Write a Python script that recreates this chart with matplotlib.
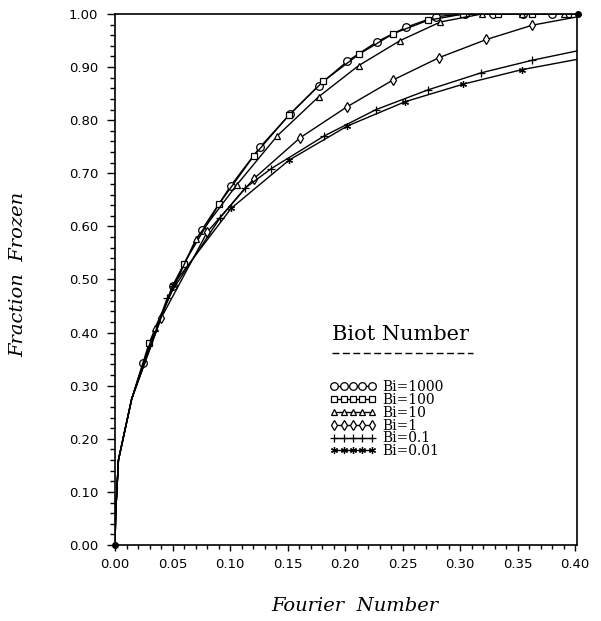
import numpy as np
import matplotlib
matplotlib.use("Agg")
import matplotlib.pyplot as plt
from matplotlib.ticker import MultipleLocator, FormatStrFormatter

# shared steep start of every curve
start_x = [0.0, 0.0006, 0.003, 0.007, 0.0145]
start_y = [0.0, 0.06, 0.16, 0.20, 0.275]

# Bi = 1000
bi1000_x = start_x + [0.0246, 0.050, 0.0754, 0.1008, 0.126, 0.152, 0.177, 0.202,
                      0.228, 0.253, 0.279, 0.304, 0.329, 0.355, 0.380, 0.403]
bi1000_y = start_y + [0.343, 0.488, 0.593, 0.677, 0.749, 0.811, 0.865, 0.911,
                      0.948, 0.975, 0.995, 1.0, 1.0, 1.0, 1.0, 1.0]
# Bi = 100
bi100_x = start_x + [0.0298, 0.060, 0.0904, 0.1207, 0.151, 0.181, 0.212, 0.242,
                     0.272, 0.303, 0.333, 0.363, 0.394, 0.403]
bi100_y = start_y + [0.381, 0.530, 0.642, 0.733, 0.809, 0.873, 0.924, 0.963,
                     0.988, 1.0, 1.0, 1.0, 1.0, 1.0]
# Bi = 10
bi10_x = start_x + [0.0348, 0.0703, 0.1058, 0.1413, 0.177, 0.212, 0.248, 0.283,
                    0.319, 0.354, 0.390, 0.403]
bi10_y = start_y + [0.409, 0.576, 0.678, 0.771, 0.844, 0.903, 0.950, 0.985,
                    1.0, 1.0, 1.0, 1.0]
# Bi = 1
bi1_x = start_x + [0.040, 0.0804, 0.1208, 0.161, 0.2016, 0.242, 0.282, 0.323, 0.363, 0.403]
bi1_y = start_y + [0.427, 0.590, 0.690, 0.767, 0.825, 0.876, 0.918, 0.952, 0.979, 0.995]
# Bi = 0.1
bi01_x = start_x + [0.0454, 0.091, 0.113, 0.136, 0.1816, 0.227, 0.272, 0.318, 0.363, 0.403]
bi01_y = start_y + [0.465, 0.615, 0.672, 0.709, 0.770, 0.820, 0.857, 0.889, 0.913, 0.931]
# Bi = 0.01
bi001_x = start_x + [0.0505, 0.101, 0.1515, 0.202, 0.2525, 0.303, 0.3535, 0.403]
bi001_y = start_y + [0.490, 0.634, 0.725, 0.789, 0.835, 0.868, 0.895, 0.915]

labels = ["Bi=1000", "Bi=100", "Bi=10", "Bi=1", "Bi=0.1", "Bi=0.01"]
series = [(bi1000_x, bi1000_y), (bi100_x, bi100_y), (bi10_x, bi10_y),
          (bi1_x, bi1_y), (bi01_x, bi01_y), (bi001_x, bi001_y)]
markers = ["o", "s", "^", "d", "+", (6, 2, 0)]
msizes = [5.5, 5, 5, 5, 6, 5]

fig = plt.figure(figsize=(6.01, 6.21), dpi=100)
ax = fig.add_axes([115 / 601, 1 - 545 / 621, 462.3 / 601, 531 / 621])

handles = []
for (xs, ys), lab, mk, ms in zip(series, labels, markers, msizes):
    n = len(xs)
    # markers only on the read points, not on the shared start nor the end
    idx = list(range(len(start_x), n - 1))
    h, = ax.plot(xs, ys, color="black", lw=1.0, marker=mk, ms=ms,
                 mfc="white", mec="black", mew=0.9, markevery=idx, label=lab)
    handles.append(h)

# filled dots at the two ends
ax.plot([bi1000_x[0], bi1000_x[-1]], [bi1000_y[0], bi1000_y[-1]], "o",
        color="black", ms=4, clip_on=False, zorder=5)

ax.set_xlim(0, 0.402)
ax.set_ylim(0, 1.0)
ax.xaxis.set_major_locator(MultipleLocator(0.05))
ax.xaxis.set_minor_locator(MultipleLocator(0.01))
ax.yaxis.set_major_locator(MultipleLocator(0.1))
ax.yaxis.set_minor_locator(MultipleLocator(0.02))
ax.xaxis.set_major_formatter(FormatStrFormatter("%.2f"))
ax.yaxis.set_major_formatter(FormatStrFormatter("%.2f"))
ax.xaxis.set_tick_params(which="major", direction="out", length=4, width=1, pad=5, labelsize=9.5)
ax.xaxis.set_tick_params(which="minor", direction="out", length=2.8, width=1)
ax.yaxis.set_tick_params(which="major", direction="out", length=6, width=1, pad=6, labelsize=9.5)
ax.yaxis.set_tick_params(which="minor", direction="out", length=3.6, width=1)
for s in ax.spines.values():
    s.set_linewidth(1.2)

ax.set_xlabel("Fourier  Number", family="DejaVu Serif", style="italic", fontsize=14, va="center")
ax.set_ylabel("Fraction  Frozen", family="DejaVu Serif", style="italic", fontsize=14, va="center")
ax.xaxis.set_label_coords(0.519, -0.115)
ax.yaxis.set_label_coords(-0.21, 0.51)

# legend title and dashed rule
ax.text(0.469, 0.3955, "Biot Number", transform=ax.transAxes, family="DejaVu Serif",
        fontsize=15, ha="left", va="center")
ax.plot([0.469, 0.775], [0.3616, 0.3616], transform=ax.transAxes, color="black",
        lw=1.0, ls=(0, (5, 2.5)))

leg = ax.legend(handles=handles, loc="upper left", bbox_to_anchor=(0.465, 0.311),
                frameon=False, numpoints=5, handlelength=3.3, handletextpad=0.5,
                labelspacing=-0.08, borderpad=0, borderaxespad=0,
                prop={"family": "DejaVu Serif", "size": 10})

fig.savefig("out.png", dpi=100)
